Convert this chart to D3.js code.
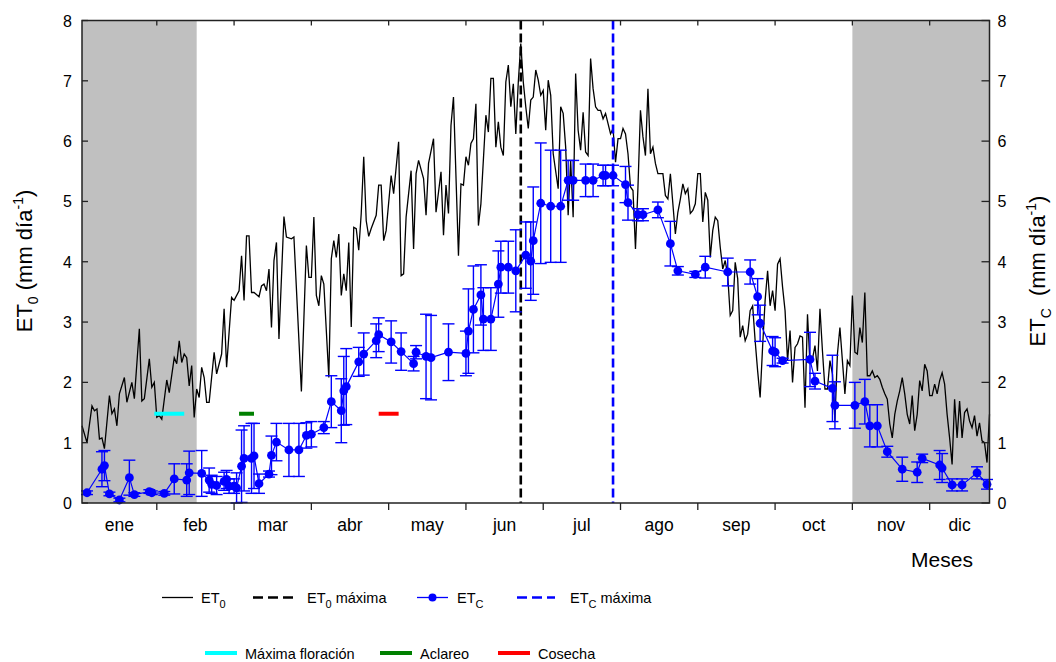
<!DOCTYPE html>
<html>
<head>
<meta charset="utf-8">
<script src="https://cdn.jsdelivr.net/npm/d3@7"></script>
<style>
    body { margin: 0; background: #fff; }
    text { font-family: "Liberation Sans", Arial, sans-serif; }
</style>
</head>
<body>
<svg id="chart_svg"></svg>
<script>
// day of year of each ET0 reading and its value (mm/dia)
var et0Day = [1,3,5,6,7,8,9,10,12,13,14,15,16,18,19,21,22,24,25,26,28,29,30,31,32,33,35,36,38,39,40,41,42,43,44,45,46,47,48,49,50,51,52,54,55,57,58,59,61,62,64,65,66,67,68,69,70,72,73,74,75,76,77,78,79,80,82,83,85,86,89,
    91,92,93,94,95,96,97,98,100,101,102,103,104,105,106,107,108,109,110,111,112,113,114,115,116,117,119,120,121,122,123,125,126,128,129,130,131,133,134,135,136,138,139,140,142,143,145,146,147,148,149,150,152,153,154,155,156,157,158,159,160,161,163,164,165,166,167,168,169,170,
    171,172,173,174,175,176,177,178,179,180,181,182,183,184,185,186,187,188,189,190,192,193,194,195,196,197,198,199,200,201,202,203,204,205,206,207,208,209,210,211,212,213,214,215,216,217,218,219,220,221,222,223,224,225,226,227,228,229,230,231,232,233,234,235,236,237,
    239,240,241,242,243,244,245,246,247,248,249,250,251,252,253,254,255,256,257,258,259,260,261,262,263,264,265,266,267,268,269,270,271,272,273,274,275,276,277,278,279,280,281,282,283,284,285,286,287,288,289,290,291,292,293,294,295,296,297,298,299,300,
    301,302,303,304,305,306,307,308,309,310,311,312,313,314,315,316,317,318,319,320,321,322,323,324,325,326,327,328,329,330,331,332,333,334,335,336,337,338,339,340,341,342,343,344,345,346,347,348,349,350,351,352,353,354,355,356,357,358,359,360,361,362,363,364,365];
var et0Val = [1.28,1.0,1.61,1.53,1.56,1.06,1.08,0.9,1.78,1.48,1.56,1.28,1.81,2.08,1.67,2.0,1.73,2.89,1.69,1.73,2.39,1.92,2.0,1.42,1.45,1.39,2.04,1.83,2.41,2.31,2.69,2.33,2.47,2.41,1.94,2.28,1.42,1.89,1.75,2.25,2.08,1.67,1.67,2.5,2.14,2.47,3.22,2.25,3.41,3.36,3.52,4.1,3.36,4.43,4.43,3.49,3.49,3.42,3.6,3.63,3.52,3.88,2.91,4.02,4.32,2.72,4.75,4.41,4.38,4.41,1.85,
    4.27,3.74,3.74,4.74,3.44,3.27,3.77,3.63,2.08,4.05,4.35,4.07,4.46,3.44,3.8,3.52,4.32,2.92,4.57,4.55,4.19,4.8,5.74,4.68,4.42,4.55,4.77,5.27,5.27,4.35,4.52,5.43,5.13,5.99,3.77,3.8,4.74,5.51,4.21,5.46,5.68,5.38,4.77,5.63,6.04,4.82,5.49,4.44,5.27,4.8,6.26,6.73,4.1,5.29,5.27,5.74,5.6,5.96,6.04,6.62,4.6,4.96,6.43,6.15,7.04,7.04,5.9,6.32,5.9,5.76,
    6.98,7.26,6.57,6.95,6.12,6.98,7.62,6.98,6.57,6.21,6.68,6.73,7.18,7.01,6.76,6.84,6.18,7.01,6.76,5.79,5.21,6.57,6.46,5.9,4.77,5.68,4.74,7.12,6.18,5.85,6.48,5.82,5.76,7.37,6.87,6.57,6.51,6.51,6.37,6.46,6.29,6.12,6.21,5.65,6.04,6.04,6.21,6.12,5.79,5.24,5.18,4.21,5.24,6.51,6.07,5.76,6.87,5.79,5.9,5.63,5.46,5.46,5.46,5.1,5.04,5.46,
    4.46,4.82,5.04,5.29,5.13,5.21,4.8,4.85,4.96,5.46,5.46,4.66,5.15,5.02,4.07,4.52,4.74,4.68,4.24,3.88,4.02,3.77,3.11,3.19,3.99,3.72,2.75,2.94,2.69,2.8,3.19,3.27,2.69,2.19,1.75,2.6,3.36,3.85,3.27,3.52,3.19,3.96,4.05,3.58,3.19,2.36,2.86,2.0,2.58,2.64,2.77,2.75,1.58,3.13,2.3,2.39,2.61,2.19,3.22,2.52,1.89,1.89,
    2.36,2.14,1.36,2.47,2.91,2.36,1.81,2.36,2.28,3.44,2.5,2.47,2.91,2.66,3.49,2.11,2.11,2.19,2.08,2.11,2.05,1.92,1.81,1.72,1.31,1.08,1.47,1.69,1.86,2.08,1.81,1.47,1.31,1.78,1.2,1.47,2.03,1.86,2.3,2.19,1.78,1.78,1.97,1.81,2.03,2.16,1.97,1.47,1.08,0.64,1.72,1.08,1.69,1.08,1.5,1.56,1.36,1.25,1.45,1.11,1.33,1.03,1.0,0.67,1.47];

// ETc: day of year, mean and standard deviation (mm/dia)
var etcDay = [3,9,10,12,16,20,22,28,29,34,38,43,44,49,52,53,55,58,59,60,62,63,65,66,69,70,72,76,77,79,84,88,91,93,98,101,105,106,107,112,114,119,120,125,129,134,135,139,141,148,155,156,158,161,162,165,168,169,172,175,179,181,182,185,189,193,196,198,203,206,210,211,214,219,220,224,226,232,237,240,247,251,260,269,272,273,278,279,282,293,295,302,303,311,315,317,320,324,330,336,338,345,346,350,354,360,364];
var etcVal = [0.17,0.56,0.62,0.15,0.05,0.42,0.14,0.19,0.17,0.16,0.4,0.38,0.5,0.49,0.38,0.31,0.29,0.36,0.39,0.28,0.28,0.25,0.61,0.74,0.74,0.78,0.32,0.48,0.79,1.01,0.88,0.88,1.12,1.14,1.25,1.68,1.53,1.86,1.93,2.34,2.47,2.69,2.79,2.67,2.51,2.31,2.5,2.43,2.41,2.5,2.48,2.85,3.21,3.45,3.05,3.05,3.63,3.91,3.91,3.85,4.11,4.01,4.35,4.97,4.92,4.92,5.35,5.35,5.35,5.35,5.43,5.43,5.43,5.28,4.98,4.78,4.78,4.86,4.3,3.85,3.79,3.91,3.83,3.83,3.42,2.98,2.52,2.5,2.36,2.38,2.02,1.9,1.62,1.62,1.68,1.28,1.28,0.85,0.56,0.51,0.74,0.63,0.58,0.3,0.3,0.5,0.31];
var etcSd = [0.03,0.29,0.25,0.03,0.03,0.29,0.03,0.03,0.03,0.03,0.25,0.27,0.36,0.38,0.2,0.15,0.15,0.15,0.15,0.12,0.12,0.25,0.6,0.54,0.58,0.54,0.16,0.05,0.32,0.31,0.44,0.44,0.21,0.21,0.1,0.43,0.53,0.57,0.63,0.24,0.35,0.28,0.28,0.35,0.31,0.12,0.11,0.7,0.7,0.47,0.37,0.7,0.72,0.5,0.52,0.52,0.55,0.43,0.43,0.68,0.55,0.65,0.89,1.0,0.93,0.93,0.33,0.33,0.27,0.27,0.17,0.17,0.17,0.3,0.29,0.1,0.1,0.13,0.37,0.07,0.05,0.18,0.23,0.2,0.3,0.3,0.24,0.24,0.04,0.45,0.13,0.55,0.39,0.38,0.37,0.35,0.35,0.09,0.2,0.17,0.07,0.24,0.24,0.1,0.1,0.1,0.08];

// phenological events: [start day, end day], drawn at about 1.5 mm/dia
var eventNames = ["Máxima floración", "Aclareo", "Cosecha"];
var eventDays = [[30, 42], [64, 70], [120, 128]];
var eventLevel = 1.48;
var eventColors = ["#00ffff", "#008000", "#ff0000"];

var et0MaxDay = 177, etcMaxDay = 214;
var shadeDays = [[1, 47], [310, 365]];
var monthNames = ["ene","feb","mar","abr","may","jun","jul","ago","sep","oct","nov","dic"];
var monthTicks = [31,62,93,124,155,186,217,248,279,310,341];
var yTicks = [0,1,2,3,4,5,6,7,8];

var width = 1056, height = 662;
var plotLeft = 82, plotRight = 989.5, plotTop = 20.5, plotBottom = 503;

var svg = d3.select("#chart_svg").attr("width", width).attr("height", height);

var x = d3.scaleLinear().domain([1, 365]).range([plotLeft, plotRight]);
var y = d3.scaleLinear().domain([0, 8]).range([plotBottom, plotTop]);

// grey background for the dormant months
svg.append("g").selectAll("rect")
    .data(shadeDays).enter().append("rect")
    .attr("x", d => x(d[0]))
    .attr("width", d => x(d[1]) - x(d[0]))
    .attr("y", plotTop).attr("height", plotBottom - plotTop)
    .attr("fill", "#c0c0c0");

// ET0 daily line
var et0 = et0Day.map((d, i) => [d, et0Val[i]]);
svg.append("path")
    .datum(et0)
    .attr("fill", "none").attr("stroke", "#000").attr("stroke-width", 1.3)
    .attr("d", d3.line().x(d => x(d[0])).y(d => y(d[1])));

// vertical max lines
svg.append("line")
    .attr("x1", x(et0MaxDay)).attr("x2", x(et0MaxDay)).attr("y1", plotTop).attr("y2", plotBottom)
    .attr("stroke", "#000").attr("stroke-width", 2.6).attr("stroke-dasharray", "9,4");
svg.append("line")
    .attr("x1", x(etcMaxDay)).attr("x2", x(etcMaxDay)).attr("y1", plotTop).attr("y2", plotBottom)
    .attr("stroke", "#0000ff").attr("stroke-width", 2.6).attr("stroke-dasharray", "9,4");

// event bars
svg.append("g").selectAll("line")
    .data(eventDays).enter().append("line")
    .attr("x1", d => x(d[0])).attr("x2", d => x(d[1]))
    .attr("y1", y(eventLevel)).attr("y2", y(eventLevel))
    .attr("stroke", (d, i) => eventColors[i]).attr("stroke-width", 4);

// ETc error bars, line and dots
var etc = etcDay.map((d, i) => ({ day: d, v: etcVal[i], sd: etcSd[i] }));
var cap = 6;
var eb = svg.append("g").attr("stroke", "#0000ff").attr("stroke-width", 1.4);
etc.forEach(function (d) {
    var lo = y(Math.max(0, d.v - d.sd)), hi = y(d.v + d.sd), cx = x(d.day);
    eb.append("line").attr("x1", cx).attr("x2", cx).attr("y1", lo).attr("y2", hi);
    eb.append("line").attr("x1", cx - cap).attr("x2", cx + cap).attr("y1", lo).attr("y2", lo);
    eb.append("line").attr("x1", cx - cap).attr("x2", cx + cap).attr("y1", hi).attr("y2", hi);
});
svg.append("path")
    .datum(etc)
    .attr("fill", "none").attr("stroke", "#0000ff").attr("stroke-width", 1.2)
    .attr("d", d3.line().x(d => x(d.day)).y(d => y(d.v)));
svg.append("g").selectAll("circle")
    .data(etc).enter().append("circle")
    .attr("cx", d => x(d.day)).attr("cy", d => y(d.v)).attr("r", 4.4)
    .attr("fill", "#0000ff");

// frame and ticks
var axisColor = "#222";
svg.append("rect")
    .attr("x", plotLeft).attr("y", plotTop).attr("width", plotRight - plotLeft).attr("height", plotBottom - plotTop)
    .attr("fill", "none").attr("stroke", axisColor).attr("stroke-width", 1.5);

var ticks = svg.append("g").attr("stroke", axisColor).attr("stroke-width", 1.3);
monthTicks.forEach(function (t) {
    ticks.append("line").attr("x1", x(t)).attr("x2", x(t)).attr("y1", plotBottom).attr("y2", plotBottom + 7);
    ticks.append("line").attr("x1", x(t)).attr("x2", x(t)).attr("y1", plotTop).attr("y2", plotTop + 5);
});
yTicks.forEach(function (t) {
    ticks.append("line").attr("x1", plotLeft).attr("x2", plotLeft + 6).attr("y1", y(t)).attr("y2", y(t));
    ticks.append("line").attr("x1", plotRight - 8).attr("x2", plotRight).attr("y1", y(t)).attr("y2", y(t));
});

svg.append("g").selectAll("text")
    .data(yTicks).enter().append("text")
    .attr("x", plotLeft - 10).attr("y", d => y(d) + 6)
    .attr("text-anchor", "end").style("font-size", "16px").text(d => d);
svg.append("g").selectAll("text")
    .data(yTicks).enter().append("text")
    .attr("x", plotRight + 8).attr("y", d => y(d) + 6)
    .attr("text-anchor", "start").style("font-size", "16px").text(d => d);

// month labels between ticks
var edges = [1].concat(monthTicks).concat([365]);
svg.append("g").selectAll("text")
    .data(monthNames).enter().append("text")
    .attr("x", (d, i) => x((edges[i] + edges[i + 1]) / 2))
    .attr("y", 531)
    .attr("text-anchor", "middle").style("font-size", "17.5px").text(d => d);

svg.append("text")
    .attr("x", 942).attr("y", 567).attr("text-anchor", "middle")
    .style("font-size", "21px").text("Meses");

// rotated axis titles with sub/superscripts
function axisTitle(cx, cy, sub, gap) {
    var t = svg.append("text")
        .attr("transform", "translate(" + cx + "," + cy + ") rotate(-90)")
        .attr("text-anchor", "middle").style("font-size", "22px");
    t.append("tspan").text("ET");
    t.append("tspan").attr("dy", 6).style("font-size", "14px").text(sub);
    t.append("tspan").attr("dx", gap).attr("dy", -6).text(" (mm día");
    t.append("tspan").attr("dy", -9).style("font-size", "14px").text("-1");
    t.append("tspan").attr("dy", 9).text(")");
}
axisTitle(32, 261, "0", 0);
axisTitle(1045, 271, "C", 6);

// legend
function legendLabel(lx, ly, main, sub, rest) {
    var t = svg.append("text").attr("x", lx).attr("y", ly).style("font-size", "14.5px");
    t.append("tspan").text(main);
    if (sub) {
        t.append("tspan").attr("dy", 5).style("font-size", "11px").text(sub);
        t.append("tspan").attr("dy", -5).text(rest || "");
    }
}
var ly1 = 597.5, ly2 = 653;
svg.append("line").attr("x1", 162).attr("x2", 193).attr("y1", ly1).attr("y2", ly1)
    .attr("stroke", "#000").attr("stroke-width", 1.3);
legendLabel(201, ly1 + 5.5, "ET", "0");
svg.append("line").attr("x1", 253).attr("x2", 293).attr("y1", ly1).attr("y2", ly1)
    .attr("stroke", "#000").attr("stroke-width", 2.6).attr("stroke-dasharray", "10,5");
legendLabel(307, ly1 + 5.5, "ET", "0", " máxima");
svg.append("line").attr("x1", 417).attr("x2", 448).attr("y1", ly1).attr("y2", ly1)
    .attr("stroke", "#0000ff").attr("stroke-width", 1.3);
svg.append("circle").attr("cx", 432.5).attr("cy", ly1).attr("r", 4).attr("fill", "#0000ff");
legendLabel(457, ly1 + 5.5, "ET", "C");
svg.append("line").attr("x1", 517).attr("x2", 555).attr("y1", ly1).attr("y2", ly1)
    .attr("stroke", "#0000ff").attr("stroke-width", 2.6).attr("stroke-dasharray", "10,5");
legendLabel(570, ly1 + 5.5, "ET", "C", " máxima");

var ex = [[205, 237, 245], [380, 412, 420], [498, 530, 538]];
ex.forEach(function (e, i) {
    svg.append("line").attr("x1", e[0]).attr("x2", e[1]).attr("y1", ly2).attr("y2", ly2)
        .attr("stroke", eventColors[i]).attr("stroke-width", 4);
    legendLabel(e[2], ly2 + 6, eventNames[i]);
});
</script>
</body>
</html>
